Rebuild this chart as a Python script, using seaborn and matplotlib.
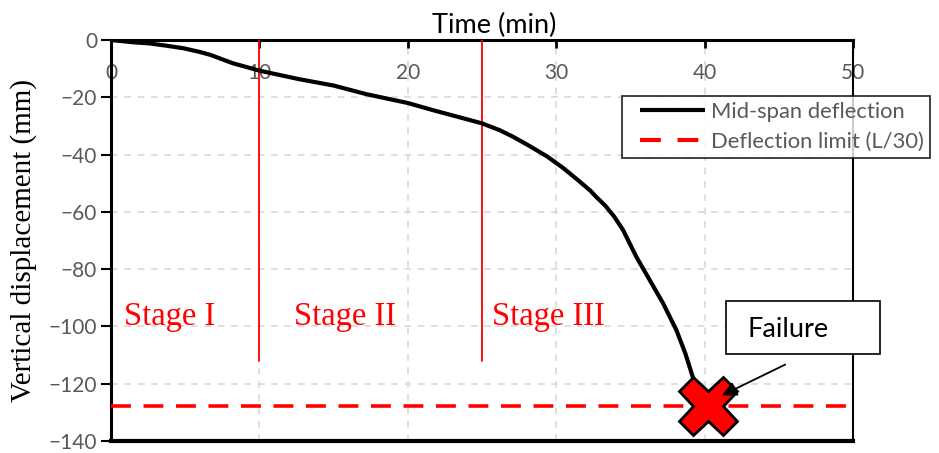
import numpy as np
import pandas as pd
import matplotlib
matplotlib.use("Agg")
import matplotlib.pyplot as plt
from matplotlib.lines import Line2D
from matplotlib.patches import Rectangle
from matplotlib.legend_handler import HandlerLine2D
import seaborn as sns

# Mid-span deflection history of the beam during the fire test
time_min = [0, 1.5, 2.6, 3.75, 4.9, 6, 6.7, 8.2, 10, 12.7, 15, 17.2, 20,
            21.7, 24.0, 25, 26.2, 27.1, 28.2, 29.4, 30.5, 31.6, 32.3, 32.7,
            33.3, 33.9, 34.5, 35.4, 36.3, 37.2, 38.1, 38.7, 39.2, 39.5]
deflection_mm = [0, -0.8, -1.2, -2.0, -2.9, -4.2, -5.2, -8.1, -10.7, -13.7,
                 -15.9, -18.9, -22.0, -24.5, -27.7, -29.1, -31.5, -33.8,
                 -37.0, -40.7, -44.8, -49.5, -52.6, -54.8, -57.8, -61.6,
                 -66.3, -75.7, -83.8, -91.9, -101.3, -109.4, -117.6, -121.0]

deflection_limit = -127.7          # L/30
failure_time = 40.2
stage_bounds = [10, 25]
stage_labels = ["Stage I", "Stage II", "Stage III"]
stage_label_x = [0.9, 12.3, 25.7]

x_ticks = [0, 10, 20, 30, 40, 50]
y_ticks = [0, -20, -40, -60, -80, -100, -120, -140]

sns.set_theme(style="white")
plt.rcParams["font.family"] = ["Lato", "DejaVu Sans"]

grey_txt = "#595959"
serif = ["Liberation Serif", "DejaVu Serif"]

fig = plt.figure(figsize=(9.39, 4.53), dpi=100)
ax = fig.add_axes([111 / 939, 12 / 453, 742 / 939, 401 / 453])

df = pd.DataFrame({"Time (min)": time_min, "Deflection (mm)": deflection_mm})
sns.lineplot(data=df, x="Time (min)", y="Deflection (mm)", ax=ax,
             color="black", lw=3, sort=False, estimator=None, zorder=4)
for ln in ax.get_lines():
    ln.set_solid_joinstyle("round")

# Deflection limit
ax.axhline(deflection_limit, color="#ff0000", lw=2.6, ls=(0, (5.5, 3.5)), zorder=3)

# Stage boundaries
for xb in stage_bounds:
    ax.plot([xb, xb], [0, -112], color="#ff0000", lw=1.3, zorder=3)
for lbl, xs in zip(stage_labels, stage_label_x):
    ax.text(xs, -99.5, lbl, color="#ff0000", fontsize=23.5, family=serif,
            va="baseline", ha="left", zorder=5)

# Failure marker
ax.plot([failure_time], [deflection_limit], marker="X", markersize=42,
        markerfacecolor="#ff0000", markeredgecolor="black",
        markeredgewidth=2, clip_on=False, zorder=6)

# Failure callout
ax.add_patch(Rectangle((41.44, -109.6), 10.38, 18.5, facecolor="white",
                       edgecolor="black", lw=1.2, clip_on=False, zorder=7))
ax.text(42.86, -101.2, "Failure", fontsize=19.5, color="black",
        va="center", ha="left", zorder=8, clip_on=False)
ax.annotate("", xy=(41.0, -124.5), xytext=(45.6, -112.9),
            arrowprops=dict(arrowstyle="-|>", color="black", lw=1.3,
                            mutation_scale=22), zorder=8)

ax.set_xlim(0, 50)
ax.set_ylim(-140, 0)
ax.set_xticks(x_ticks)
ax.set_yticks(y_ticks)

ax.grid(True, color="#d9d9d9", ls=(0, (4, 4)), lw=1.2)
ax.set_axisbelow(True)

ax.xaxis.tick_top()
ax.xaxis.set_label_position("top")
ax.set_xlabel("Time (min)", fontsize=19.5, color="black", labelpad=5)
ax.xaxis.label.set_x(0.517)
ax.set_ylabel("Vertical displacement (mm)", fontsize=21, family=serif,
              color="black", labelpad=8)

ax.tick_params(axis="x", which="both", top=True, bottom=False, direction="in",
               length=6, width=2, color="black", labelsize=15,
               labelcolor=grey_txt, pad=-31)
ax.tick_params(axis="y", which="both", left=True, direction="out", length=7,
               width=1.5, color="black", labelsize=15, labelcolor=grey_txt, pad=3)

for side, lw in [("left", 2.2), ("top", 2.2), ("bottom", 3), ("right", 1.5)]:
    ax.spines[side].set_visible(True)
    ax.spines[side].set_color("black")
    ax.spines[side].set_linewidth(lw)

handles = [Line2D([], [], color="black", lw=3, solid_capstyle="butt"),
           Line2D([], [], color="#ff0000", lw=3, ls=(0, (5, 4)),
                  dash_capstyle="butt")]
leg = fig.legend(handles, ["Mid-span deflection", "Deflection limit (L/30)"],
                 loc="upper left", bbox_to_anchor=(622 / 939, 1 - 96 / 453),
                 fontsize=15.8, frameon=True, fancybox=False, handlelength=3.5,
                 handletextpad=0.3, borderpad=0.27, labelspacing=0.45,
                 borderaxespad=0,
                 handler_map={Line2D: HandlerLine2D(xpad=0.56)})
leg.get_frame().set_edgecolor("black")
leg.get_frame().set_linewidth(1.3)
for t in leg.get_texts():
    t.set_color(grey_txt)

fig.savefig("out.png", dpi=100)
